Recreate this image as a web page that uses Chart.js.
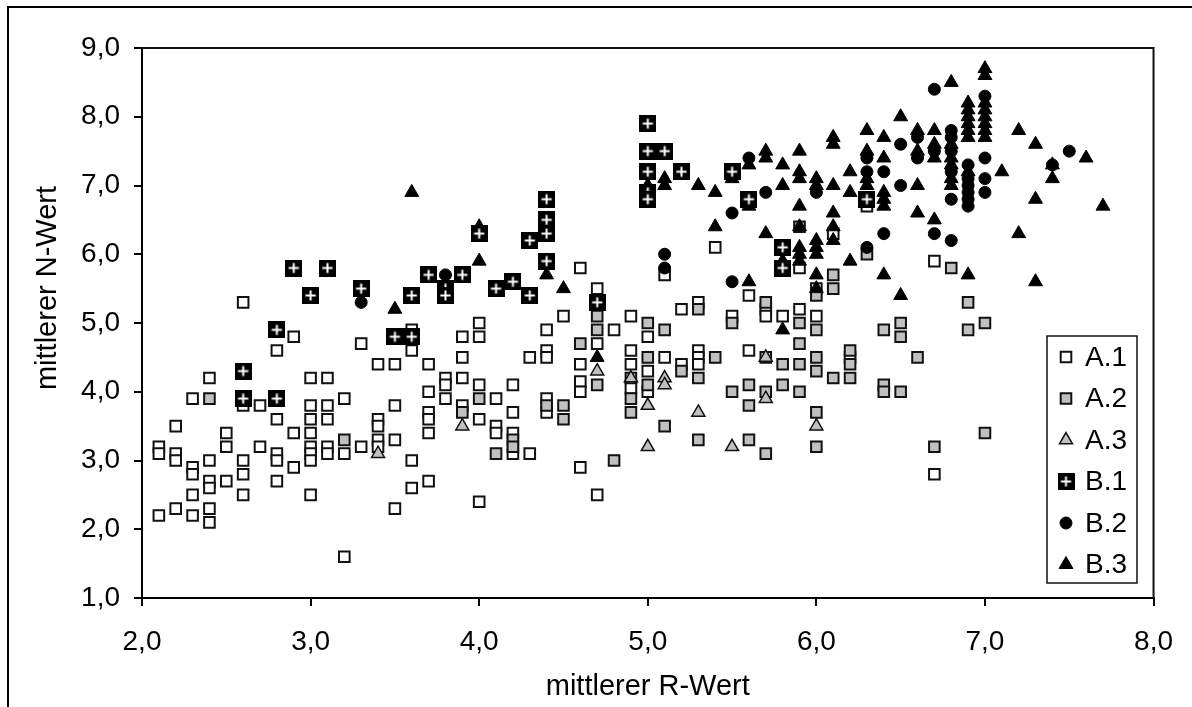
<!DOCTYPE html>
<html>
<head>
<meta charset="utf-8">
<title>mittlerer R-Wert / N-Wert</title>
<script src="https://cdn.jsdelivr.net/npm/chart.js@4.4.1/dist/chart.umd.min.js"></script>
<style>
  html, body { margin: 0; padding: 0; background: #fff; }
  #chart { display: block; }
</style>
</head>
<body>
<canvas id="chart" width="1192" height="707"></canvas>
<script>
// --- Data: [mittlerer R-Wert, mittlerer N-Wert] per point ---
const seriesNames = ['A.1', 'A.2', 'A.3', 'B.1', 'B.2', 'B.3'];

const pointsA1 = [
  [2.1,3.2],[2.1,3.1],[2.1,2.2],
  [2.2,3.5],[2.2,3.1],[2.2,3.0],[2.2,2.3],
  [2.3,3.9],[2.3,2.9],[2.3,2.8],[2.3,2.5],[2.3,2.2],
  [2.4,4.2],[2.4,3.0],[2.4,2.7],[2.4,2.6],[2.4,2.3],[2.4,2.1],
  [2.5,3.4],[2.5,3.2],[2.5,2.7],
  [2.6,5.3],[2.6,3.8],[2.6,3.0],[2.6,2.8],[2.6,2.5],
  [2.7,3.8],[2.7,3.2],
  [2.8,4.6],[2.8,3.6],[2.8,3.1],[2.8,3.0],[2.8,2.7],
  [2.9,4.8],[2.9,3.4],[2.9,2.9],
  [3.0,4.2],[3.0,3.8],[3.0,3.6],[3.0,3.4],[3.0,3.2],[3.0,3.1],[3.0,3.0],[3.0,2.5],
  [3.1,4.2],[3.1,3.8],[3.1,3.6],[3.1,3.2],[3.1,3.1],
  [3.2,3.9],[3.2,3.1],[3.2,1.6],
  [3.3,4.7],[3.3,3.2],
  [3.4,4.4],[3.4,3.6],[3.4,3.5],[3.4,3.3],[3.4,3.2],
  [3.5,4.4],[3.5,3.8],[3.5,3.3],[3.5,2.3],
  [3.6,4.9],[3.6,4.6],[3.6,3.0],[3.6,2.6],
  [3.7,4.4],[3.7,4.0],[3.7,3.7],[3.7,3.6],[3.7,3.4],[3.7,2.7],
  [3.8,4.2],[3.8,4.1],[3.8,3.9],
  [3.9,4.8],[3.9,4.5],[3.9,4.2],[3.9,3.8],
  [4.0,5.0],[4.0,4.8],[4.0,4.1],[4.0,3.6],[4.0,2.4],
  [4.1,3.9],[4.1,3.5],[4.1,3.4],
  [4.2,4.1],[4.2,3.7],[4.2,3.4],[4.2,3.1],
  [4.3,4.5],[4.3,3.1],
  [4.4,4.9],[4.4,4.6],[4.4,4.5],[4.4,3.9],[4.4,3.7],
  [4.5,5.1],
  [4.6,5.8],[4.6,4.4],[4.6,4.15],[4.6,4.0],[4.6,2.9],
  [4.7,5.5],[4.7,4.7],[4.7,2.5],
  [4.8,4.9],
  [4.9,5.1],[4.9,4.6],[4.9,4.4],[4.9,4.05],
  [5.0,4.8],[5.0,4.3],[5.0,4.0],
  [5.1,5.7],[5.1,4.5],
  [5.2,5.2],[5.2,4.4],
  [5.3,5.3],[5.3,4.6],[5.3,4.5],[5.3,4.4],
  [5.4,6.1],[5.5,5.1],[5.6,5.4],[5.6,4.6],
  [5.7,5.2],[5.7,5.1],[5.8,5.1],[5.9,5.8],[5.9,5.2],
  [6.0,5.5],[6.0,5.1],[6.1,6.3],[6.2,4.5],[6.3,6.7],
  [6.7,5.9],[6.7,2.8]
];

const pointsA2 = [
  [2.4,3.9],[3.2,3.3],[3.9,3.7],[4.0,3.9],[4.1,3.1],[4.2,3.3],[4.2,3.2],
  [4.4,3.8],[4.5,3.8],[4.5,3.6],[4.6,4.7],[4.7,5.1],[4.7,4.9],[4.7,4.1],[4.8,3.0],
  [4.9,4.2],[4.9,3.9],[4.9,3.7],[5.0,5.0],[5.0,4.5],[5.0,4.1],[5.1,4.9],[5.1,3.5],
  [5.2,4.3],[5.3,5.2],[5.3,4.2],[5.3,3.3],[5.4,4.5],[5.5,5.0],[5.5,4.0],
  [5.6,4.1],[5.6,3.8],[5.6,3.3],[5.7,5.3],[5.7,4.5],[5.7,4.0],[5.7,3.1],
  [5.8,4.4],[5.8,4.1],[5.9,6.4],[5.9,5.0],[5.9,4.7],[5.9,4.4],[5.9,4.0],
  [6.0,5.4],[6.0,4.9],[6.0,4.5],[6.0,4.3],[6.0,3.7],[6.0,3.2],
  [6.1,5.7],[6.1,5.5],[6.1,4.2],[6.2,4.6],[6.2,4.4],[6.2,4.2],[6.3,6.0],
  [6.4,4.9],[6.4,4.1],[6.4,4.0],[6.5,5.0],[6.5,4.8],[6.5,4.0],[6.6,4.5],
  [6.7,3.2],[6.8,5.8],[6.9,5.3],[6.9,4.9],[7.0,5.0],[7.0,3.4]
];

const pointsA3 = [
  [3.4,3.1],[3.9,3.5],[4.7,4.3],[4.9,4.2],[5.0,3.8],[5.0,3.2],[5.1,4.2],
  [5.1,4.1],[5.3,3.7],[5.5,3.2],[5.7,4.5],[5.7,3.9],[6.0,3.5]
];

const pointsB1 = [
  [2.6,4.3],[2.6,3.9],[2.8,4.9],[2.8,3.9],[2.9,5.8],[3.0,5.4],[3.1,5.8],[3.3,5.5],
  [3.5,4.8],[3.6,4.8],[3.6,5.4],[3.7,5.7],[3.8,5.5],[3.8,5.4],[3.9,5.7],[4.0,6.3],
  [4.1,5.5],[4.2,5.6],[4.3,5.4],[4.3,6.2],[4.4,6.8],[4.4,6.5],[4.4,6.3],[4.4,5.9],
  [4.7,5.3],[5.0,7.9],[5.0,7.5],[5.0,7.2],[5.0,6.9],[5.0,6.8],[5.1,7.5],[5.2,7.2],
  [5.5,7.2],[5.6,6.8],[5.8,6.1],[5.8,5.8],[6.3,6.8]
];

const pointsB2 = [
  [3.3,5.3],[3.8,5.7],[5.1,6.0],[5.1,5.8],[5.5,6.6],[5.5,5.6],[5.6,7.4],[5.7,6.9],
  [6.0,6.9],[6.3,7.4],[6.3,7.2],[6.3,6.1],[6.4,7.2],[6.4,6.3],[6.5,7.6],[6.5,7.0],
  [6.6,7.7],[6.6,7.4],[6.7,8.4],[6.7,7.5],[6.7,6.3],[6.8,7.8],[6.8,7.7],[6.8,7.5],
  [6.8,7.2],[6.8,6.8],[6.8,6.2],[6.9,7.3],[6.9,7.1],[6.9,7.0],[6.9,6.9],[6.9,6.8],
  [6.9,6.7],[7.0,8.3],[7.0,7.4],[7.0,7.1],[7.0,6.9],[7.4,7.3],[7.5,7.5]
];

const pointsB3 = [
  [3.5,5.2],[3.6,6.9],[4.0,6.4],[4.0,5.9],[4.4,5.7],[4.5,5.5],[4.7,4.5],
  [5.0,7.0],[5.1,7.1],[5.1,7.0],[5.3,7.0],[5.4,6.9],[5.4,6.4],[5.5,7.1],
  [5.6,7.3],[5.6,6.7],[5.6,5.6],[5.7,7.5],[5.7,7.4],[5.7,6.3],
  [5.8,7.3],[5.8,7.0],[5.8,5.9],[5.8,4.9],
  [5.9,7.5],[5.9,7.2],[5.9,7.1],[5.9,6.7],[5.9,6.4],[5.9,6.1],[5.9,6.0],[5.9,5.9],
  [6.0,7.1],[6.0,7.0],[6.0,6.2],[6.0,6.1],[6.0,6.0],[6.0,5.7],[6.0,5.5],
  [6.1,7.7],[6.1,7.6],[6.1,7.0],[6.1,6.6],[6.1,6.4],[6.1,6.2],
  [6.2,7.2],[6.2,6.9],[6.2,5.9],
  [6.3,7.8],[6.3,7.5],[6.3,7.1],[6.3,7.0],
  [6.4,7.7],[6.4,7.4],[6.4,6.9],[6.4,6.8],[6.4,6.7],[6.4,5.7],
  [6.5,8.0],[6.5,5.4],
  [6.6,7.8],[6.6,7.5],[6.6,7.0],[6.6,6.6],
  [6.7,7.8],[6.7,7.6],[6.7,7.4],[6.7,6.5],
  [6.8,8.5],[6.8,7.6],[6.8,7.4],[6.8,7.3],[6.8,7.1],[6.8,7.0],
  [6.9,8.2],[6.9,8.1],[6.9,8.0],[6.9,7.9],[6.9,7.8],[6.9,7.7],[6.9,7.2],[6.9,5.7],
  [7.0,8.7],[7.0,8.6],[7.0,8.2],[7.0,8.1],[7.0,8.0],[7.0,7.9],[7.0,7.8],[7.0,7.7],
  [7.1,7.2],[7.2,7.8],[7.2,6.3],[7.3,7.6],[7.3,6.8],[7.3,5.6],
  [7.4,7.3],[7.4,7.1],[7.6,7.4],[7.7,6.7]
];

const xTitle = 'mittlerer R-Wert';
const yTitle = 'mittlerer N-Wert';
const FONT = "'Liberation Sans', Arial, sans-serif";

// black square with a white cross, used for B.1
function makeCrossBox(size) {
  const c = document.createElement('canvas');
  c.width = size; c.height = size;
  const g = c.getContext('2d');
  g.fillStyle = '#000';
  g.fillRect(0, 0, size, size);
  g.strokeStyle = '#fff';
  g.lineWidth = 2;
  const m = size / 2, a = size * 0.3;
  g.beginPath();
  g.moveTo(m - a, m); g.lineTo(m + a, m);
  g.moveTo(m, m - a); g.lineTo(m, m + a);
  g.stroke();
  return c;
}
const crossBox = makeCrossBox(17);

const toXY = arr => arr.map(([x, y]) => ({ x, y }));

// style per series (legend re-uses this)
const styles = {
  'A.1': { pointStyle: 'rect', radius: 7.5, bg: '#ffffff', border: '#111', bw: 2 },
  'A.2': { pointStyle: 'rect', radius: 7.5, bg: '#c0c0c0', border: '#111', bw: 2 },
  'A.3': { pointStyle: 'triangle', radius: 7.5, bg: '#c0c0c0', border: '#111', bw: 1.5 },
  'B.1': { pointStyle: crossBox, radius: 8, bg: '#000', border: '#000', bw: 0 },
  'B.2': { pointStyle: 'circle', radius: 6, bg: '#000', border: '#000', bw: 1 },
  'B.3': { pointStyle: 'triangle', radius: 8, bg: '#000', border: '#000', bw: 1 }
};
const seriesData = [pointsA1, pointsA2, pointsA3, pointsB1, pointsB2, pointsB3];
// B.1 on top, A.1 at the bottom
const drawOrder = { 'A.1': 5, 'A.2': 4, 'A.3': 3, 'B.3': 2, 'B.2': 1, 'B.1': 0 };

const datasets = seriesNames.map((name, i) => {
  const s = styles[name];
  return {
    label: name,
    data: toXY(seriesData[i]),
    order: drawOrder[name],
    pointStyle: s.pointStyle,
    pointRadius: s.radius,
    pointBackgroundColor: s.bg,
    pointBorderColor: s.border,
    pointBorderWidth: s.bw,
    showLine: false
  };
});

// outer frame, plot box, axis titles and legend
const decorations = {
  id: 'decorations',
  beforeDraw(chart) {
    const ctx = chart.ctx;
    ctx.save();
    ctx.fillStyle = '#fff';
    ctx.fillRect(0, 0, chart.width, chart.height);
    ctx.strokeStyle = '#000';
    ctx.lineWidth = 2;
    ctx.strokeRect(8, 7, 1300, 800);
    ctx.restore();
  },
  afterDraw(chart) {
    const { ctx, chartArea: a } = chart;
    ctx.save();
    ctx.strokeStyle = '#111';
    ctx.lineWidth = 2;
    ctx.beginPath();
    ctx.moveTo(a.left, a.top); ctx.lineTo(a.right, a.top); ctx.lineTo(a.right, a.bottom);
    ctx.stroke();

    ctx.fillStyle = '#000';
    ctx.font = '29px ' + FONT;
    ctx.textAlign = 'center';
    ctx.textBaseline = 'middle';
    ctx.fillText(xTitle, (a.left + a.right) / 2, 687);
    ctx.translate(48, 288);
    ctx.rotate(-Math.PI / 2);
    ctx.fillText(yTitle, 0, 0);
    ctx.restore();

    // legend box
    const lx = 1047, ly = 336, lw = 90, lh = 247, step = 41.5;
    ctx.save();
    ctx.fillStyle = '#fff';
    ctx.fillRect(lx, ly, lw, lh);
    ctx.strokeStyle = '#111';
    ctx.lineWidth = 1.5;
    ctx.strokeRect(lx, ly, lw, lh);
    ctx.font = '28px ' + FONT;
    ctx.textAlign = 'left';
    ctx.textBaseline = 'middle';
    seriesNames.forEach((name, i) => {
      const cy = ly + 21 + i * step, cx = lx + 19;
      drawMarker(ctx, styles[name], cx, cy);
      ctx.fillStyle = '#000';
      ctx.fillText(name, lx + 38, cy + 1);
    });
    ctx.restore();
  }
};

function drawMarker(ctx, s, x, y) {
  ctx.save();
  ctx.fillStyle = s.bg;
  ctx.strokeStyle = s.border;
  ctx.lineWidth = s.bw;
  const r = s.radius;
  if (s.pointStyle instanceof HTMLCanvasElement) {
    ctx.drawImage(s.pointStyle, x - s.pointStyle.width / 2, y - s.pointStyle.height / 2);
  } else if (s.pointStyle === 'rect') {
    const h = r * Math.SQRT1_2;
    ctx.beginPath(); ctx.rect(x - h, y - h, 2 * h, 2 * h);
    ctx.fill(); if (s.bw) ctx.stroke();
  } else if (s.pointStyle === 'triangle') {
    ctx.beginPath();
    ctx.moveTo(x, y - r);
    ctx.lineTo(x + r * 0.866, y + r / 2);
    ctx.lineTo(x - r * 0.866, y + r / 2);
    ctx.closePath();
    ctx.fill(); if (s.bw) ctx.stroke();
  } else {
    ctx.beginPath(); ctx.arc(x, y, r, 0, Math.PI * 2);
    ctx.fill(); if (s.bw) ctx.stroke();
  }
  ctx.restore();
}

const fmt = v => Number(v).toFixed(1).replace('.', ',');

new Chart(document.getElementById('chart'), {
  type: 'scatter',
  data: { datasets },
  options: {
    responsive: false,
    animation: false,
    devicePixelRatio: 1,
    events: [],
    layout: { padding: { top: 48, right: 35, left: 0, bottom: 0 } },
    plugins: {
      legend: { display: false },
      tooltip: { enabled: false }
    },
    scales: {
      x: {
        type: 'linear',
        min: 2, max: 8,
        ticks: { stepSize: 1, color: '#000', font: { family: FONT, size: 28 }, padding: 19, callback: fmt, maxRotation: 0 },
        grid: { drawOnChartArea: false, tickLength: 8, color: '#000', lineWidth: 2 },
        border: { color: '#000', width: 2 },
        afterFit: s => { s.height = 109; }
      },
      y: {
        type: 'linear',
        min: 1, max: 9,
        ticks: { stepSize: 1, color: '#000', font: { family: FONT, size: 28 }, padding: 14, callback: fmt },
        grid: { drawOnChartArea: false, tickLength: 8, color: '#000', lineWidth: 2 },
        border: { color: '#000', width: 2 },
        afterFit: s => { s.width = 142; }
      }
    }
  },
  plugins: [decorations]
});
</script>
</body>
</html>
